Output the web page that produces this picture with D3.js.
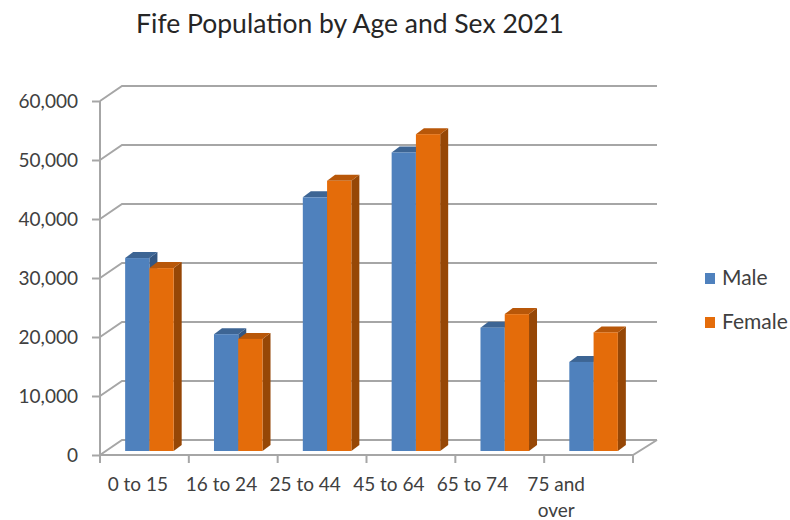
<!DOCTYPE html>
<html>
<head>
<meta charset="utf-8">
<script src="https://cdn.jsdelivr.net/npm/d3@7/dist/d3.min.js"></script>
<style>
  html, body { margin: 0; padding: 0; background: #fff; }
  svg { display: block; font-family: Lato, "Open Sans", sans-serif; }
</style>
</head>
<body>
<svg id="chart" width="790" height="520"></svg>
<script>
// Fife population by age band and sex, 2021
const categories = ["0 to 15", "16 to 24", "25 to 44", "45 to 64", "65 to 74", "75 and over"];
const categoryLines = [["0 to 15"], ["16 to 24"], ["25 to 44"], ["45 to 64"], ["65 to 74"], ["75 and", "over"]];
const seriesNames = ["Male", "Female"];
const maleValues = [32700, 19800, 43000, 50600, 20900, 15100];
const femaleValues = [31000, 19000, 45800, 53700, 23200, 20100];
const yTicks = [0, 10000, 20000, 30000, 40000, 50000, 60000];
const chartTitle = "Fife Population by Age and Sex 2021";

const colors = {
  Male:   { front: "#4F81BD", top: "#3D6594", side: "#345782" },
  Female: { front: "#E46C0A", top: "#B85709", side: "#964706" }
};

const svg = d3.select("#chart");

// Oblique 3-D frame: front plane, back wall offset by (wallDx, wallDy)
const x0 = 100, x1 = 633;
const baseY = 455, topY = 101;
const wallDx = 22, wallDy = -15;
const barDepthShift = { dx: 5, dy: -4 };   // bars sit slightly behind the front plane
const barDepth = { dx: 8, dy: -6 };

const y = d3.scaleLinear().domain([0, 60000]).range([baseY, topY]);
const x = d3.scaleBand().domain(categories).range([x0, x1]).padding(0);
const inner = d3.scaleBand().domain(seriesNames).range([0, x.bandwidth()]).paddingInner(0).paddingOuter(0.83);
// label positions along the floor edge
const xLabel = d3.scaleBand().domain(categories).range([96, 598]).padding(0);

const gridColor = "#A6A6A6";
const grid = svg.append("g").attr("stroke", gridColor).attr("stroke-width", 2).attr("fill", "none");

// back wall gridlines and left wall diagonals
yTicks.forEach(v => {
  const yf = y(v), yb = y(v) + wallDy;
  grid.append("path").attr("d", `M${x0},${yf}L${x0 + wallDx},${yb}L${x1 + wallDx + 2},${yb}`);
});
// floor: front edge and right edge
grid.append("path").attr("d", `M${x0},${baseY}L${x1},${baseY}L${x1 + wallDx + 2},${baseY + wallDy}`);

// value axis
const yAxisG = svg.append("g").attr("transform", `translate(${x0},0)`)
  .call(d3.axisLeft(y).tickValues(yTicks).tickSize(8).tickPadding(14).tickFormat(d3.format(",")));
yAxisG.select(".domain").attr("stroke", gridColor).attr("stroke-width", 2).attr("d", `M0,${topY}V${baseY}`);
yAxisG.selectAll(".tick line").attr("stroke", gridColor).attr("stroke-width", 2);
yAxisG.selectAll(".tick text").attr("font-size", 19).attr("fill", "#404040")
  .attr("font-family", "Lato, sans-serif");

// category ticks
const catTicks = [x0].concat(categories.map(c => x(c) + x.bandwidth()));
svg.append("g").attr("stroke", gridColor).attr("stroke-width", 2)
  .selectAll("line").data(catTicks).join("line")
  .attr("x1", d => d).attr("x2", d => d).attr("y1", baseY).attr("y2", baseY + 8);

// category labels
const labels = svg.append("g").attr("font-size", 19).attr("fill", "#404040").attr("text-anchor", "middle");
categories.forEach((c, i) => {
  const t = labels.append("text").attr("x", xLabel(c) + xLabel.bandwidth() / 2).attr("y", 491);
  categoryLines[i].forEach((line, j) => {
    t.append("tspan").attr("x", xLabel(c) + xLabel.bandwidth() / 2).attr("dy", j === 0 ? 0 : 26).text(line);
  });
});

// 3-D bars
const bars = svg.append("g");
categories.forEach((c, i) => {
  [["Male", maleValues[i]], ["Female", femaleValues[i]]].forEach(([s, v]) => {
    const bx = x(c) + inner(s) + barDepthShift.dx;
    const bw = inner.bandwidth();
    const by = y(v) + barDepthShift.dy;
    const bb = y(0) + barDepthShift.dy;
    const { dx, dy } = barDepth;
    const col = colors[s];
    bars.append("path").attr("fill", col.side)
      .attr("d", `M${bx + bw},${by}L${bx + bw + dx},${by + dy}L${bx + bw + dx},${bb + dy}L${bx + bw},${bb}Z`);
    bars.append("path").attr("fill", col.top)
      .attr("d", `M${bx},${by}L${bx + dx},${by + dy}L${bx + bw + dx},${by + dy}L${bx + bw},${by}Z`);
    bars.append("rect").attr("fill", col.front)
      .attr("x", bx).attr("y", by).attr("width", bw).attr("height", bb - by);
  });
});

// title
svg.append("text").attr("x", 350).attr("y", 33).attr("text-anchor", "middle")
  .attr("font-size", 26.5).attr("fill", "#262626").text(chartTitle);

// legend
const legend = svg.append("g").attr("font-size", 21).attr("fill", "#404040");
seriesNames.forEach((s, i) => {
  const ly = 278 + i * 44;
  legend.append("rect").attr("x", 705).attr("y", ly - 5).attr("width", 10).attr("height", 11)
    .attr("fill", colors[s].front);
  legend.append("text").attr("x", 722).attr("y", ly + 7).text(s);
});
</script>
</body>
</html>
